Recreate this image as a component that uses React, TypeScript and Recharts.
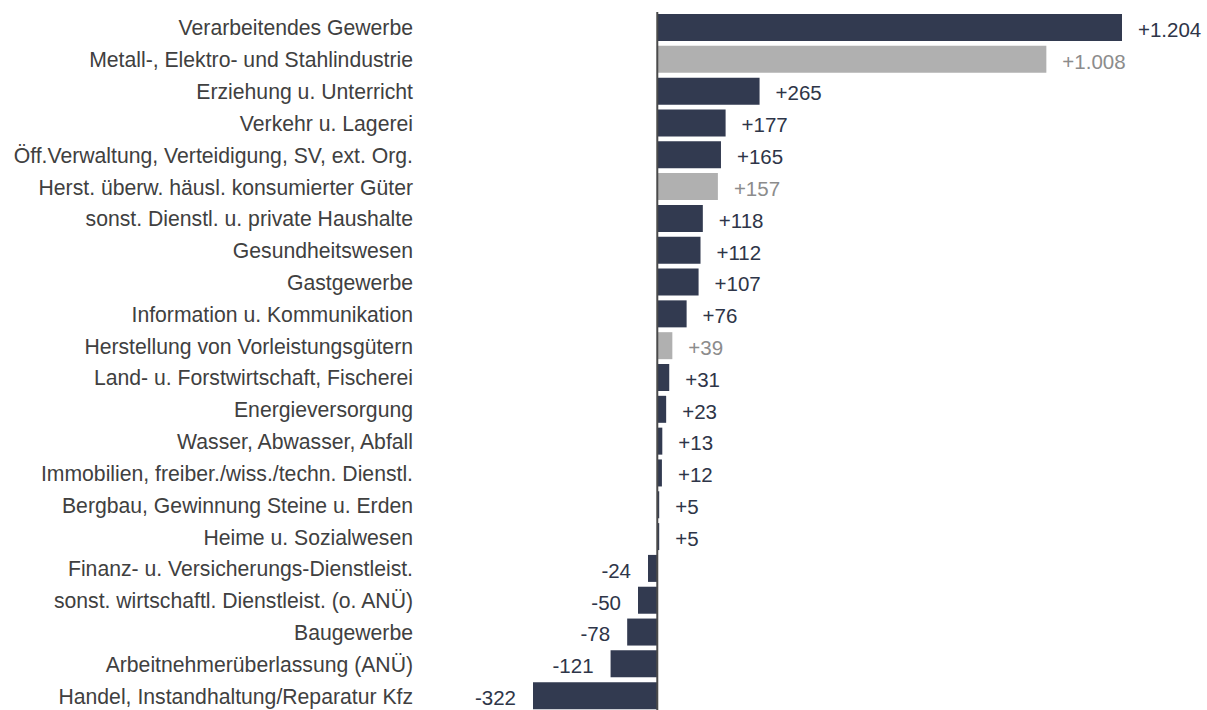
import { BarChart, Bar, XAxis, YAxis, Cell, LabelList, ReferenceLine } from "recharts";

const categories = [
  "Verarbeitendes Gewerbe",
  "Metall-, Elektro- und Stahlindustrie",
  "Erziehung u. Unterricht",
  "Verkehr u. Lagerei",
  "Öff.Verwaltung, Verteidigung, SV, ext. Org.",
  "Herst. überw. häusl. konsumierter Güter",
  "sonst. Dienstl. u. private Haushalte",
  "Gesundheitswesen",
  "Gastgewerbe",
  "Information u. Kommunikation",
  "Herstellung von Vorleistungsgütern",
  "Land- u. Forstwirtschaft, Fischerei",
  "Energieversorgung",
  "Wasser, Abwasser, Abfall",
  "Immobilien, freiber./wiss./techn. Dienstl.",
  "Bergbau, Gewinnung Steine u. Erden",
  "Heime u. Sozialwesen",
  "Finanz- u. Versicherungs-Dienstleist.",
  "sonst. wirtschaftl. Dienstleist. (o. ANÜ)",
  "Baugewerbe",
  "Arbeitnehmerüberlassung (ANÜ)",
  "Handel, Instandhaltung/Reparatur Kfz",
];

const values = [1204, 1008, 265, 177, 165, 157, 118, 112, 107, 76, 39, 31, 23, 13, 12, 5, 5, -24, -50, -78, -121, -322];

// sub-branches of the manufacturing sector are shown in grey
const isSubBranch = [false, true, false, false, false, true, false, false, false, false, true, false, false, false, false, false, false, false, false, false, false, false];

const data = categories.map((name, i) => ({ name, value: values[i], sub: isSubBranch[i] }));

const DARK = "#323a50";
const GREY = "#b0b0b0";
const FONT = "'Liberation Sans', Arial, sans-serif";

function fmt(v: number) {
  const abs = Math.abs(v)
    .toString()
    .replace(/\B(?=(\d{3})+(?!\d))/g, ".");
  return (v >= 0 ? "+" : "-") + abs;
}

function CategoryTick({ y, payload }: any) {
  return (
    <text x={413} y={y} dy="0.355em" textAnchor="end" fill="#404040" fontSize={21.2} fontFamily={FONT}>
      {payload.value}
    </text>
  );
}

function ValueLabel({ x, y, width, height, index }: any) {
  const v = values[index];
  const start = Number(x);
  const end = start + Number(width);
  const right = Math.max(start, end);
  const left = Math.min(start, end);
  const cy = Number(y) + Number(height) / 2 + 2;
  return (
    <text
      x={v >= 0 ? right + 16 : left - 17}
      y={cy}
      dy="0.355em"
      textAnchor={v >= 0 ? "start" : "end"}
      fill={isSubBranch[index] ? "#8c8c8c" : "#2e3548"}
      fontSize={20.5}
      fontFamily={FONT}
    >
      {fmt(v)}
    </text>
  );
}

export default function App() {
  return (
    <div style={{ position: "fixed", left: 0, top: 0, width: 1207, height: 710, overflow: "hidden", background: "#fff" }}>
      <BarChart
        width={1207}
        height={720}
        data={data}
        layout="vertical"
        margin={{ top: 12, right: 85, bottom: 8, left: 0 }}
      >
        <XAxis type="number" domain={[-322, 1204]} allowDataOverflow hide />
        <YAxis
          type="category"
          dataKey="name"
          width={533}
          axisLine={false}
          tickLine={false}
          interval={0}
          tick={<CategoryTick />}
        />
        <Bar dataKey="value" barSize={27} isAnimationActive={false}>
          {data.map((d, i) => (
            <Cell key={i} fill={d.sub ? GREY : DARK} />
          ))}
          <LabelList dataKey="value" content={<ValueLabel />} />
        </Bar>
        <ReferenceLine x={0} stroke="#4a4a4a" strokeWidth={2} ifOverflow="extendDomain" />
      </BarChart>
    </div>
  );
}
